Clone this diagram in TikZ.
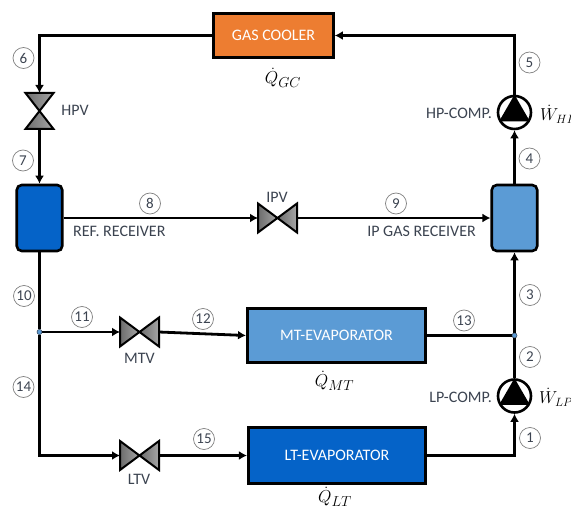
\documentclass[tikz,border=0pt]{standalone}
\usepackage{fontspec}
\setmainfont{Carlito}
\usetikzlibrary{arrows.meta,shadows}
\definecolor{labelgray}{HTML}{3B4350}
\definecolor{coolerorange}{HTML}{ED7D31}
\definecolor{midblue}{HTML}{5B9BD5}
\definecolor{darkblue}{HTML}{0563C8}
\tikzset{
  pipe/.style={line width=2.8pt,line cap=butt,line join=miter},
  flow/.style={pipe,-{Latex[length=8pt,width=9pt]}},
  unit/.style={draw=black,line width=2.6pt,inner sep=0pt,text=white,font=\fontsize{16}{18}\selectfont},
  receiver/.style={draw=black,line width=2.6pt,rounded corners=5pt,inner sep=0pt,minimum width=45.5pt,minimum height=66pt},
  valvebox/.style={inner sep=0pt,outer sep=0pt,minimum width=39pt,minimum height=29pt},
  valvetri/.style={draw=black,line width=2pt,line join=miter,left color=gray!85!black,right color=gray!70!white},
  compressor/.style={circle,draw=black,fill=white,line width=2.6pt,inner sep=0pt,minimum size=33pt},
  junction/.style={circle,draw=labelgray,fill=midblue,line width=0.4pt,inner sep=0pt,minimum size=5pt},
  statept/.style={circle,draw=gray,line width=0.7pt,inner sep=0pt,minimum size=21pt,text=labelgray,font=\fontsize{15}{17}\selectfont},
  lbl/.style={inner sep=0pt,text=labelgray,font=\fontsize{16}{18}\selectfont},
  heat/.style={inner sep=0pt,font=\fontsize{19}{21}\selectfont},
  work/.style={inner sep=0pt,font=\fontsize{17}{19}\selectfont}
}
\begin{document}
\begin{tikzpicture}[x=1pt,y=-1pt]
  % parámetros
  \def\xl{39.5}   % rama izquierda
  \def\xr{514.5}  % rama derecha
  \def\yr{218}    % receptores
  \def\ylt{455.5} % línea LT
  \useasboundingbox (0,0) rectangle (571,511);

  % equipos
  \node[unit,fill=coolerorange,minimum width=120pt,minimum height=44.5pt] (gascooler) at (273.5,35.5) {GAS COOLER};
  \node[unit,fill=midblue,minimum width=178.5pt,minimum height=54.5pt] (mtevap) at (336.5,335.5) {MT-EVAPORATOR};
  \node[unit,fill=darkblue,drop shadow={shadow xshift=1pt,shadow yshift=-1pt,opacity=0.35},minimum width=177.5pt,minimum height=55.5pt] (ltevap) at (337,\ylt) {LT-EVAPORATOR};
  \node[receiver,fill=darkblue] (refreceiver) at (\xl,\yr) {};
  \node[receiver,fill=midblue] (ipreceiver) at (\xr,\yr) {};

  % válvulas y compresores
  \node[valvebox,minimum width=28pt,minimum height=36pt] (hpv) at (\xl,111) {};
  \node[valvebox] (ipv) at (277.5,\yr) {};
  \node[valvebox] (mtv) at (139.5,332) {};
  \node[valvebox] (ltv) at (139.5,\ylt) {};
  \node[compressor] (hpcomp) at (\xr,112.5) {};
  \node[compressor] (lpcomp) at (\xr,396) {};

  % nudos
  \node[junction] (jleft) at (\xl,332) {};
  \node[junction] (jright) at (\xr,335.5) {};

  % tuberías
  \draw[flow] (gascooler.west) -| (hpv.north);
  \draw[flow] (hpv.south) -- (refreceiver.north);
  \draw[flow] (refreceiver.east) -- (ipv.west);
  \draw[flow] (ipv.east) -- (ipreceiver.west);
  \draw[flow] (ipreceiver.north) -- (hpcomp.south);
  \draw[flow] (hpcomp.north) |- (gascooler.east);
  \draw[pipe] (refreceiver.south) -- (jleft);
  \draw[flow] (jleft) -- (mtv.west);
  \draw[flow] (mtv.east) -- (mtevap.west);
  \draw[flow] (jleft) |- (ltv.west);
  \draw[flow] (ltv.east) -- (ltevap.west);
  \draw[flow] (ltevap.east) -| (lpcomp.south);
  \draw[pipe] (mtevap.east) -- (jright);
  \draw[pipe] (lpcomp.north) -- (jright);
  \draw[flow] (jright) -- (ipreceiver.south);
  \node[junction] at (jleft) {};
  \node[junction] at (jright) {};

  % triángulos
  \foreach \v in {ipv,mtv,ltv} {
    \draw[valvetri] (\v.north west) -- (\v.center) -- (\v.south west) -- cycle;
    \draw[valvetri] (\v.north east) -- (\v.center) -- (\v.south east) -- cycle;
  }
  \draw[valvetri] (hpv.north west) -- (hpv.center) -- (hpv.north east) -- cycle;
  \draw[valvetri] (hpv.south west) -- (hpv.center) -- (hpv.south east) -- cycle;
  \foreach \c in {hpcomp,lpcomp}
    \fill[black] (\c.90) -- (\c.-30) -- (\c.210) -- cycle;

  % puntos de estado
  \foreach \n/\x/\y in {1/530/438,2/530/357,3/530/295,4/529.5/158.5,5/529.5/62.5,
      6/23.5/58,7/23/160.5,8/150/203.5,9/396/203.5,10/24/296,11/82/317,12/203/319,
      13/464/320.5,14/23.5/387,15/204/439}
    \node[statept] (st\n) at (\x,\y) {\n};

  % etiquetas
  \node[lbl] (hpvlabel) at (75,110) {HPV};
  \node[lbl] (ipvlabel) at (277,197) {IPV};
  \node[lbl] (mtvlabel) at (139.5,358.5) {MTV};
  \node[lbl] (ltvlabel) at (139,479) {LTV};
  \node[lbl,anchor=west] (reflabel) at (73,231) {REF. RECEIVER};
  \node[lbl,anchor=east] (iplabel) at (476,231) {IP GAS RECEIVER};
  \node[lbl,anchor=east] (hplabel) at (492,113) {HP-COMP.};
  \node[lbl,anchor=east] (lplabel) at (492,397) {LP-COMP.};

  % calor y trabajo
  \node[heat] (qgc) at (283,78) {$\dot{Q}_{GC}$};
  \node[heat] (qmt) at (334.5,381) {$\dot{Q}_{MT}$};
  \node[heat] (qlt) at (335,497) {$\dot{Q}_{LT}$};
  \node[work,anchor=west] (whp) at (540,114) {$\dot{W}_{HP}$};
  \node[work,anchor=west] (wlp) at (539,397) {$\dot{W}_{LP}$};
\end{tikzpicture}
\end{document}
